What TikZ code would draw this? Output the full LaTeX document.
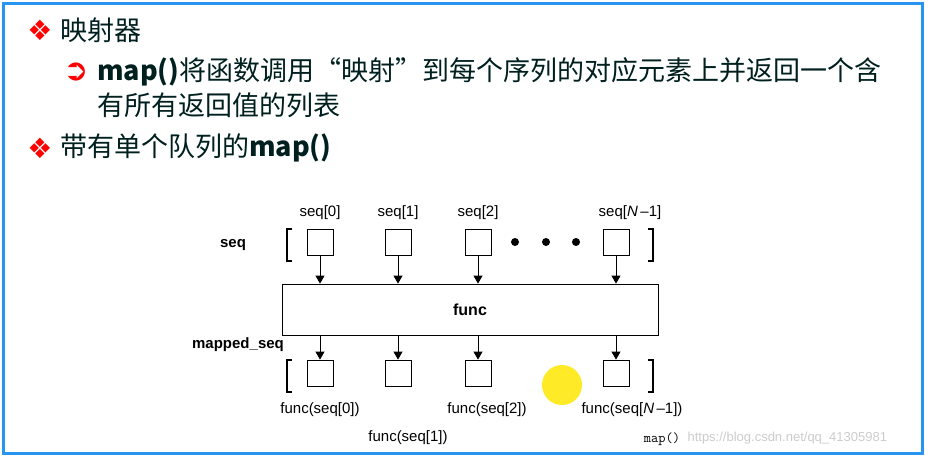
\documentclass[tikz,border=0pt]{standalone}
\usepackage{fontspec}
\setmainfont{Liberation Sans}
\newfontfamily\cjk{Noto Sans CJK SC}
\newfontfamily\sym{DejaVu Sans}
\usetikzlibrary{arrows.meta}
\begin{document}
\begin{tikzpicture}[x=1pt,y=-1pt,
  cell/.style={draw,thick,minimum width=26pt,minimum height=26pt,inner sep=0},
  lab/.style={font=\fontsize{15}{15}\selectfont},
  blab/.style={font=\bfseries\fontsize{15}{15}\selectfont},
  arr/.style={-{Triangle[length=8pt,width=9pt]},thick},
  brk/.style={line width=2.4pt},
  title/.style={anchor=west,text=black!75!teal,font=\cjk\fontsize{27}{27}\selectfont,inner sep=0}]
\useasboundingbox (0,0) rectangle (925,456);
\fill[white] (0,0) rectangle (925,456);
\draw[line width=3pt,color={rgb,255:red,40;green,150;blue,240}] (3,3) rectangle (922,453);
% text
\node[text=red,font=\sym\fontsize{28}{28}\selectfont] (b1) at (40,30) {❖};
\node[title] (t1) at (60,30) {映射器};
\node[text=red,font=\sym\bfseries\fontsize{30}{30}\selectfont] (b2) at (76,72) {➲};
\node[title] (t2) at (97,72) {\textbf{map()}将函数调用“映射”到每个序列的对应元素上并返回一个含};
\node[title] (t3) at (97,105) {有所有返回值的列表};
\node[text=red,font=\sym\fontsize{28}{28}\selectfont] (b3) at (40,148) {❖};
\node[title] (t4) at (60,148) {带有单个队列的\textbf{map()}};
% diagram
\foreach \n/\x in {0/320,1/398,2/478,3/616}{
  \node[cell] (s\n) at (\x,242) {};
  \node[cell] (m\n) at (\x,373) {};
}
\node[lab] (l0) at (320,213) {seq[0]};
\node[lab] (l1) at (398,213) {seq[1]};
\node[lab] (l2) at (478,213) {seq[2]};
\node[lab] (l3) at (630,213) {seq[\textit{N}\,–1]};
\foreach \x in {515,546,576} \fill (\x,242) circle (4pt);
\node[blab] (seq) at (233,245) {seq};
\node[draw,thick,minimum width=376pt,minimum height=51pt,font=\bfseries\fontsize{16}{16}\selectfont] (f) at (470,309.5) {func};
\node[blab] (ms) at (238,345) {mapped\_seq};
\foreach \n in {0,1,2,3}{
  \draw[arr] (s\n.south) -- (s\n.south |- f.north);
  \draw[arr] (m\n.north |- f.south) -- (m\n.north);
}
\draw[brk] (292,229) -- (287,229) -- (287,261) -- (292,261);
\draw[brk] (648,229) -- (653,229) -- (653,261) -- (648,261);
\draw[brk] (292,360) -- (287,360) -- (287,392) -- (292,392);
\draw[brk] (648,360) -- (653,360) -- (653,392) -- (648,392);
\fill[yellow!90!orange,opacity=0.85] (562,385) circle (20pt);
\node[lab] (r0) at (320,410) {func(seq[0])};
\node[lab] (r2) at (487,410) {func(seq[2])};
\node[lab] (r3) at (632,410) {func(seq[\textit{N}\,–1])};
\node[lab] (r1) at (408,438) {func(seq[1])};
\node[font=\ttfamily\fontsize{14}{14}\selectfont] (mp) at (662,439) {map()};
\node[anchor=west,text=black!20,font=\fontsize{13}{13}\selectfont] (wm) at (684,438) {https://blog.csdn.net/qq\_41305981};
\end{tikzpicture}
\end{document}
